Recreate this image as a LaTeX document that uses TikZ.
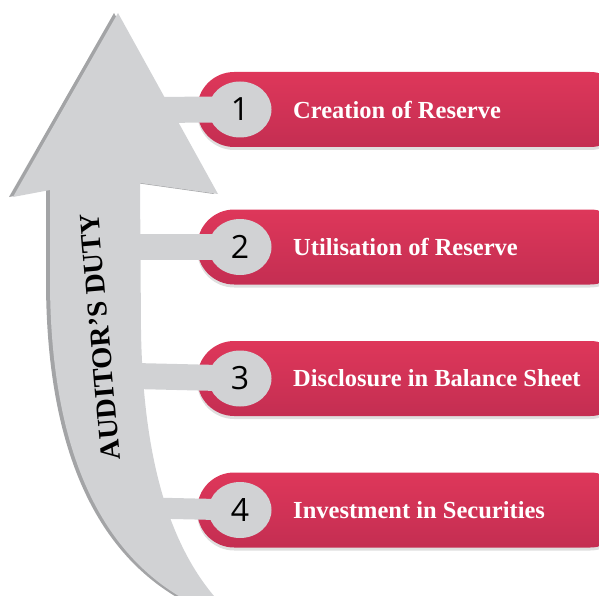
\documentclass[tikz,border=0pt]{standalone}
\usepackage{fontspec}
\setmainfont{Liberation Serif}
\newfontfamily\numfont{Open Sans}
\usetikzlibrary{shapes.geometric, shadows, positioning}
\definecolor{dutygrey}{RGB}{209, 210, 212}
\definecolor{dutyshade}{RGB}{163, 164, 166}
\definecolor{bannertop}{RGB}{222, 55, 90}
\definecolor{bannerbottom}{RGB}{196, 46, 82}

\begin{document}
\begin{tikzpicture}[x=1pt, y=-1pt,
    banner/.style={rectangle, rounded corners=37pt, minimum width=430pt,
                   minimum height=75pt, top color=bannertop,
                   bottom color=bannerbottom, anchor=west,
                   drop shadow={shadow xshift=0pt, shadow yshift=-3pt, opacity=0.25}},
    num/.style={ellipse, fill=dutygrey, minimum width=63pt, minimum height=56pt,
                inner sep=0pt, font=\numfont\fontsize{32}{32}\selectfont},
    item/.style={anchor=west, text=white, font=\fontsize{24.5}{27}\selectfont\bfseries},
    link/.style={draw=dutygrey, line width=26pt},
]
    \clip (0,0) rectangle (599,596);

    % the big arrow
    \fill[dutyshade, xshift=-4pt] (118,13) -- (218,194) -- (140,183) -- (141,330)
        .. controls (143,460) and (170,550) .. (222,605) -- (195,605)
        .. controls (95,555) and (50,440) .. (50,280) -- (50,190) -- (13,197) -- cycle;
    \fill[dutygrey] (118,13) -- (218,194) -- (140,183) -- (141,330)
        .. controls (143,460) and (170,550) .. (222,605) -- (195,605)
        .. controls (95,555) and (50,440) .. (50,280) -- (50,190) -- (13,197) -- cycle;
    \node[rotate=95, font=\fontsize{28.5}{28.5}\selectfont\bfseries] (duty) at (100,337)
        {AUDITOR’S DUTY};

    % banners
    \node[banner] (b1) at (197,109.5) {};
    \node[banner] (b2) at (197,247) {};
    \node[banner] (b3) at (197,378.5) {};
    \node[banner] (b4) at (197,510) {};

    \coordinate (s1) at (130,110);
    \coordinate (s2) at (130,247);
    \coordinate (s3) at (135,376);
    \coordinate (s4) at (150,508);
    \coordinate (p1) at (240,109.5);
    \coordinate (p2) at (240,247);
    \coordinate (p3) at (240,378.5);
    \coordinate (p4) at (240,510);

    \draw[link] (s1) -- (p1);
    \draw[link] (s2) -- (p2);
    \draw[link] (s3) -- (p3);
    \draw[link, line width=21pt] (s4) -- (p4);

    \node[num] (c1) at (p1) {1};
    \node[num] (c2) at (p2) {2};
    \node[num] (c3) at (p3) {3};
    \node[num] (c4) at (p4) {4};

    \node[item, right=18pt of c1] (t1) {Creation of Reserve};
    \node[item, right=18pt of c2] (t2) {Utilisation of Reserve};
    \node[item, right=18pt of c3] (t3) {Disclosure in Balance Sheet};
    \node[item, right=18pt of c4] (t4) {Investment in Securities};
\end{tikzpicture}
\end{document}
